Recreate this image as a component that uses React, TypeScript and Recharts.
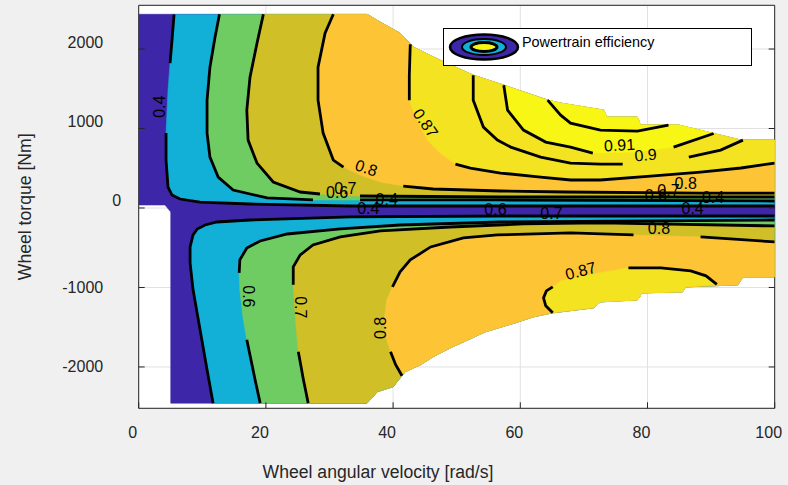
import React from 'react'
import { ScatterChart, Scatter, XAxis, YAxis, CartesianGrid, Legend } from 'recharts'

type Pt = [number, number]

const FONT = '"Liberation Sans", Arial, Helvetica, sans-serif'
const AXIS = '#262626'

const PURPLE = '#3e26a8'
const BLUE = '#12afd6'
const GREEN = '#6fcc63'
const OLIVE = '#d0bf27'
const ORANGE = '#fdc535'
const YELLOW = '#f3e320'
const BRIGHT = '#f8f614'

const SPEED_TICKS = [0, 20, 40, 60, 80, 100]
const TORQUE_TICKS = [-2000, -1000, 0, 1000, 2000]

// operating envelope: [speed rad/s, torque Nm]
const TOP_EDGE: Pt[] = [
  [0, 2437], [35.9, 2437], [38.0, 2337], [41.1, 2199], [43.2, 2023], [47.4, 1859],
  [52.6, 1671], [57.4, 1545], [64.3, 1357], [66.35, 1319], [73.1, 1231], [73.6, 1143],
  [78.4, 1143], [78.9, 1043], [84.9, 1043], [94.7, 854], [100, 854],
]
const BOTTOM_EDGE: Pt[] = [
  [5.04, -2455], [35.9, -2455], [36.7, -2387], [37.5, -2312], [40.0, -2249], [41.9, -2060],
  [44.3, -1972], [46.3, -1872], [49.0, -1759], [51.8, -1658], [54.5, -1558], [59.2, -1445],
  [62.1, -1369], [65.1, -1319], [71.5, -1256], [72.6, -1181], [78.4, -1156], [79.2, -1068],
  [85.5, -1055], [86.0, -992], [94.2, -967], [95.0, -867], [100, -867],
]
const LEFT_NOTCH: Pt[] = [[5.04, -50], [4.14, 38], [0, 38]]

// motoring side contours
const UP_BLUE: Pt[] = [
  [5.56, 2437], [5.24, 2111], [4.93, 1822], [4.61, 1482], [4.46, 1231], [4.30, 942],
  [4.30, 603], [4.61, 264], [5.24, 163], [6.5, 113], [9.65, 75], [17.5, 50], [33.3, 25],
  [56.9, 25], [100, 25],
]
const UP_GREEN: Pt[] = [
  [12.7, 2437], [12.0, 2148], [11.2, 1771], [10.75, 1357], [10.75, 942], [11.2, 641],
  [12.5, 389], [14.85, 226], [20.2, 126], [27.4, 101], [34.8, 101], [56.9, 101], [100, 88],
]
const UP_OLIVE: Pt[] = [
  [19.6, 2437], [18.6, 2073], [17.5, 1646], [17.0, 1231], [17.2, 854], [18.6, 565],
  [21.15, 327], [25.4, 201], [28.5, 176], [34.8, 151], [56.9, 138], [100, 138],
]
const UP_ORANGE: Pt[] = [
  [30.6, 2437], [29.3, 2199], [28.2, 1771], [28.2, 1357], [29.0, 942], [30.6, 603],
  [32.2, 515], [34.8, 415], [38.0, 327], [41.6, 276], [46.3, 239], [56.9, 214],
  [67.1, 201], [88.35, 188], [100, 188],
]
const UP_YELLOW: Pt[] = [
  [42.7, 2060], [42.55, 1671], [42.55, 1357], [43.5, 1143], [45.4, 854], [47.4, 691],
  [49.8, 553], [52.15, 503], [56.9, 440], [63.2, 389], [67.9, 352], [72.6, 352],
  [80.5, 402], [88.35, 452], [94.7, 503], [100, 565],
]
const UP_090: Pt[] = [
  [52.6, 1671], [52.6, 1357], [54.2, 1018], [56.4, 854], [58.5, 766], [63.2, 641],
  [67.9, 565], [72.6, 553], [76.1, 553], [78.9, 578], [82.1, 603], [86.5, 641],
  [91.5, 729], [95.0, 854],
]
const UP_091: Pt[] = [
  [57.4, 1545], [58.0, 1231], [60.5, 980], [64.0, 829], [67.9, 766], [71.4, 691],
  [78.1, 704], [84.1, 766], [90.4, 937],
]
const UP_092: Pt[] = [
  [64.3, 1357], [66.35, 1168], [67.9, 1068], [72.6, 980], [78.4, 967], [83.3, 1043],
]

// regenerating side contours
const LO_BLUE: Pt[] = [
  [11.7, -2455], [10.75, -2035], [9.65, -1533], [8.55, -1030], [8.08, -691], [8.08, -490],
  [8.55, -339], [9.2, -264], [10.45, -214], [12.3, -176], [17.5, -151], [33.3, -113],
  [56.9, -101], [100, -101],
]
const LO_GREEN: Pt[] = [
  [19.1, -2455], [18.3, -2161], [17.0, -1658], [16.4, -1382], [15.9, -1030], [15.8, -817],
  [15.9, -653], [17.0, -503], [19.1, -415], [23.35, -327], [31.7, -264], [41.1, -214],
  [56.9, -176], [100, -151],
]
const LO_OLIVE: Pt[] = [
  [26.65, -2455], [25.9, -2161], [25.1, -1809], [24.8, -1533], [24.5, -1219], [24.3, -967],
  [24.3, -741], [25.4, -590], [27.4, -465], [31.7, -364], [38.0, -289], [49.0, -239],
  [60.5, -201], [72.6, -188], [100, -226],
]
const LO_ORANGE: Pt[] = [
  [41.4, -2110], [40.4, -1972], [39.6, -1809], [39.0, -1658], [38.6, -1407], [39.0, -1156],
  [39.9, -992], [41.1, -804], [42.7, -653], [45.9, -490], [51.05, -377], [56.4, -339],
  [67.9, -314], [77.8, -339], [83.2, -352], [88.35, -364], [100, -427],
]
const LO_YELLOW: Pt[] = [
  [65.1, -1319], [64.0, -1231], [63.65, -1131], [64.1, -1043], [65.1, -992], [66.35, -917],
  [71.5, -829], [77.0, -754], [82.1, -754], [86.8, -791], [89.2, -854], [90.9, -960],
]

// inline contour labels: [speed, torque, text, angle]
const CONTOUR_LABELS: [number, number, string, number][] = [
  [3.27, 1275, '0.4', -90],
  [31.2, 201, '0.6', 0],
  [32.5, 251, '0.7', 0],
  [35.8, 503, '0.8', 18],
  [36.1, -6, '0.4', 0],
  [39.0, 113, '0.4', 0],
  [45.1, 1068, '0.87', 55],
  [56.1, -25, '0.6', 0],
  [64.9, -63, '0.7', 0],
  [75.6, 791, '0.91', -3],
  [79.7, 666, '0.9', -5],
  [81.3, 151, '0.6', 0],
  [83.3, 214, '0.7', 0],
  [86.0, 314, '0.8', 0],
  [90.3, 138, '0.4', 0],
  [87.1, -6, '0.4', 0],
  [81.8, -264, '0.8', 0],
  [69.5, -791, '0.87', -15],
  [38.0, -1508, '0.8', -90],
  [17.3, -1112, '0.6', 90],
  [25.5, -1250, '0.7', 90],
]

const asPoints = (pts: Pt[]) => pts.map(([x, y]) => ({ x, y }))

// close a contour back along the envelope edge it starts and ends on
function closeAgainst(edge: Pt[], contour: Pt[]): Pt[] {
  const x0 = contour[0][0]
  const x1 = contour[contour.length - 1][0]
  const back = edge.filter(([x]) => x > x0 && x <= x1).reverse()
  return [...contour, ...back]
}

const ENVELOPE: Pt[] = [...TOP_EDGE, ...[...BOTTOM_EDGE].reverse(), ...LEFT_NOTCH]

const FILLS: { pts: Pt[]; color: string }[] = [
  { pts: ENVELOPE, color: PURPLE },
  { pts: closeAgainst(TOP_EDGE, UP_BLUE), color: BLUE },
  { pts: closeAgainst(TOP_EDGE, UP_GREEN), color: GREEN },
  { pts: closeAgainst(TOP_EDGE, UP_OLIVE), color: OLIVE },
  { pts: closeAgainst(TOP_EDGE, UP_ORANGE), color: ORANGE },
  { pts: closeAgainst(TOP_EDGE, UP_YELLOW), color: YELLOW },
  { pts: closeAgainst(TOP_EDGE, UP_091), color: BRIGHT },
  { pts: closeAgainst(BOTTOM_EDGE, LO_BLUE), color: BLUE },
  { pts: closeAgainst(BOTTOM_EDGE, LO_GREEN), color: GREEN },
  { pts: closeAgainst(BOTTOM_EDGE, LO_OLIVE), color: OLIVE },
  { pts: closeAgainst(BOTTOM_EDGE, LO_ORANGE), color: ORANGE },
  { pts: closeAgainst(BOTTOM_EDGE, LO_YELLOW), color: YELLOW },
]

// each contour is drawn in runs, leaving gaps where its labels sit
const LINES: { pts: Pt[]; runs: [number, number][] }[] = [
  { pts: UP_BLUE, runs: [[0, 2], [5, 14]] },
  { pts: UP_GREEN, runs: [[0, 9], [10, 12]] },
  { pts: UP_OLIVE, runs: [[0, 8], [9, 11]] },
  { pts: UP_ORANGE, runs: [[0, 6], [9, 14]] },
  { pts: UP_YELLOW, runs: [[0, 2], [6, 15]] },
  { pts: UP_090, runs: [[0, 8], [11, 13]] },
  { pts: UP_091, runs: [[0, 5], [7, 8]] },
  { pts: UP_092, runs: [[0, 5]] },
  { pts: LO_BLUE, runs: [[0, 13]] },
  { pts: LO_GREEN, runs: [[0, 2], [5, 13]] },
  { pts: LO_OLIVE, runs: [[0, 2], [5, 14]] },
  { pts: LO_ORANGE, runs: [[0, 2], [6, 13], [15, 16]] },
  { pts: LO_YELLOW, runs: [[0, 4], [7, 11]] },
]

const SEGMENTS = LINES.flatMap(({ pts, runs }) => runs.map(([a, b]) => pts.slice(a, b + 1)))

const LABEL_POINTS = CONTOUR_LABELS.map(([x, y, text, angle]) => ({ x, y, text, angle }))

const NoDot = () => <g />

function LabelMark(props: any) {
  const { cx, cy, payload } = props
  return (
    <text
      x={cx}
      y={cy}
      transform={`rotate(${payload.angle} ${cx} ${cy})`}
      textAnchor="middle"
      dominantBaseline="central"
      fontSize={16}
      fontFamily={FONT}
      fill="#000"
    >
      {payload.text}
    </text>
  )
}

function BottomTick({ x, y, payload }: any) {
  return (
    <g>
      <line x1={x} y1={y} x2={x} y2={y - 6} stroke={AXIS} />
      <text x={x - 6} y={y + 30} textAnchor="middle" fontSize={16} fontFamily={FONT} fill={AXIS}>
        {payload.value}
      </text>
    </g>
  )
}

function TopTick({ x, y }: any) {
  return <line x1={x} y1={y} x2={x} y2={y + 6} stroke={AXIS} />
}

function LeftTick({ x, y, payload }: any) {
  const v = payload.value
  return (
    <g>
      <line x1={x} y1={y} x2={x + 6} y2={y} stroke={AXIS} />
      <text
        x={v === 0 ? x - 17.5 : x - 35.5}
        y={v >= 0 ? y - 7 : y}
        textAnchor="end"
        dominantBaseline="central"
        fontSize={16}
        fontFamily={FONT}
        fill={AXIS}
      >
        {v}
      </text>
    </g>
  )
}

function RightTick({ x, y }: any) {
  return <line x1={x} y1={y} x2={x - 6} y2={y} stroke={AXIS} />
}

function EfficiencyKey() {
  return (
    <div
      style={{
        width: 309,
        height: 38,
        boxSizing: 'border-box',
        border: '1px solid #000',
        background: '#fff',
        position: 'relative',
        fontFamily: FONT,
      }}
    >
      <svg width={80} height={36} style={{ position: 'absolute', left: 0, top: 0 }}>
        <ellipse cx={40} cy={18} rx={34} ry={12.5} fill={PURPLE} stroke="#000" strokeWidth={2.5} />
        <ellipse cx={40} cy={18} rx={22} ry={8} fill={BLUE} stroke="#000" strokeWidth={2} />
        <ellipse cx={40} cy={18} rx={13} ry={4.5} fill={BRIGHT} stroke="#000" strokeWidth={3} />
      </svg>
      <span
        style={{
          position: 'absolute',
          left: 78,
          top: 6,
          fontSize: 14.4,
          lineHeight: '14.4px',
          color: '#000',
          whiteSpace: 'nowrap',
        }}
      >
        Powertrain efficiency
      </span>
    </div>
  )
}

export default function App() {
  return (
    <div
      style={{
        position: 'absolute',
        left: 0,
        top: 0,
        width: 788,
        height: 485,
        background: '#f0f0f0',
        fontFamily: FONT,
      }}
    >
      <ScatterChart
        width={788}
        height={485}
        margin={{ top: 4.3, right: 12.3, bottom: 75.7, left: 137.7 }}
      >
        <CartesianGrid stroke="#e1e1e1" fill="#ffffff" fillOpacity={1} />
        <XAxis
          type="number"
          dataKey="x"
          domain={[0, 100]}
          ticks={SPEED_TICKS}
          interval={0}
          allowDataOverflow
          height={1}
          tickSize={0}
          tickMargin={0}
          tickLine={false}
          axisLine={{ stroke: AXIS }}
          tick={<BottomTick />}
        />
        <XAxis
          xAxisId="top"
          orientation="top"
          type="number"
          domain={[0, 100]}
          ticks={SPEED_TICKS}
          interval={0}
          allowDataOverflow
          height={1}
          tickSize={0}
          tickMargin={0}
          tickLine={false}
          axisLine={{ stroke: AXIS }}
          tick={<TopTick />}
        />
        <YAxis
          type="number"
          dataKey="y"
          domain={[-2520, 2550]}
          ticks={TORQUE_TICKS}
          interval={0}
          allowDataOverflow
          width={1}
          tickSize={0}
          tickMargin={0}
          tickLine={false}
          axisLine={{ stroke: AXIS }}
          tick={<LeftTick />}
        />
        <YAxis
          yAxisId="right"
          orientation="right"
          type="number"
          domain={[-2520, 2550]}
          ticks={TORQUE_TICKS}
          interval={0}
          allowDataOverflow
          width={1}
          tickSize={0}
          tickMargin={0}
          tickLine={false}
          axisLine={{ stroke: AXIS }}
          tick={<RightTick />}
        />
        {FILLS.map((f, i) => (
          <Scatter
            key={`fill-${i}`}
            data={asPoints(f.pts)}
            line={{ fill: f.color, stroke: f.color, strokeWidth: 0.6 }}
            lineType="joint"
            shape={NoDot}
            isAnimationActive={false}
          />
        ))}
        {SEGMENTS.map((s, i) => (
          <Scatter
            key={`line-${i}`}
            data={asPoints(s)}
            line={{ fill: 'none', stroke: '#000', strokeWidth: 2.8 }}
            lineType="joint"
            shape={NoDot}
            isAnimationActive={false}
          />
        ))}
        <Scatter data={LABEL_POINTS} shape={LabelMark} isAnimationActive={false} />
        <Legend
          layout="vertical"
          align="center"
          verticalAlign="middle"
          content={<EfficiencyKey />}
          wrapperStyle={{ position: 'absolute', left: 443, top: 28, width: 309, height: 38 }}
        />
      </ScatterChart>
      <div
        style={{
          position: 'absolute',
          left: 178,
          top: 464,
          width: 400,
          textAlign: 'center',
          fontSize: 17.6,
          lineHeight: '17.6px',
          color: AXIS,
          whiteSpace: 'nowrap',
        }}
      >
        Wheel angular velocity [rad/s]
      </div>
      <div
        style={{
          position: 'absolute',
          left: 25.5 - 150,
          top: 207 - 8.8,
          width: 300,
          height: 17.6,
          textAlign: 'center',
          fontSize: 17.6,
          lineHeight: '17.6px',
          color: AXIS,
          whiteSpace: 'nowrap',
          transform: 'rotate(-90deg)',
        }}
      >
        Wheel torque [Nm]
      </div>
    </div>
  )
}
